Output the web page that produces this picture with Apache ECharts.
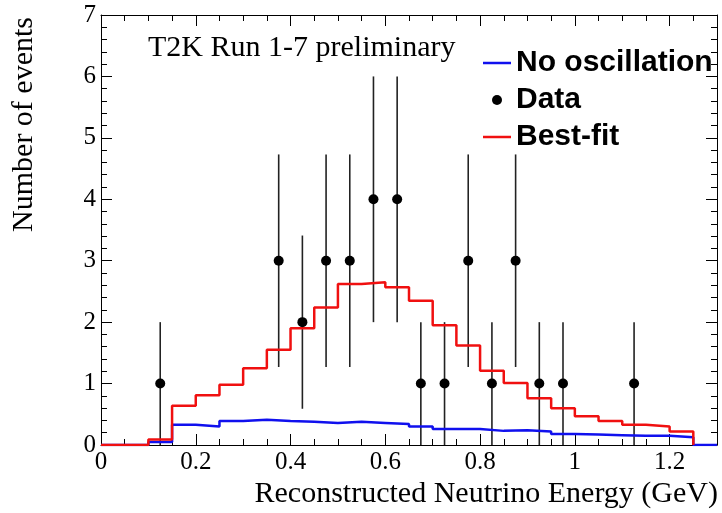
<!DOCTYPE html>
<html>
<head>
<meta charset="utf-8">
<script src="https://cdn.jsdelivr.net/npm/echarts@6/dist/echarts.min.js"></script>
<style>html,body{margin:0;padding:0;background:#fff;}#c{width:722px;height:513px;}</style>
</head>
<body>
<div id="c"></div>
<script>
const binLow = [0,0.05,0.1,0.15,0.2,0.25,0.3,0.35,0.4,0.45,0.5,0.55,0.6,0.65,0.7,0.75,0.8,0.85,0.9,0.95,1.0,1.05,1.1,1.15,1.2,1.25];
const binEnd = 1.3;
const bestFit = [0,0,0.09,0.64,0.81,0.98,1.25,1.55,1.9,2.24,2.62,2.65,2.57,2.35,1.95,1.62,1.21,1.01,0.76,0.6,0.47,0.39,0.33,0.3,0.22,0];
const noOsc = [0,0,0.05,0.33,0.3,0.39,0.41,0.39,0.38,0.36,0.38,0.36,0.34,0.3,0.26,0.26,0.23,0.24,0.22,0.18,0.17,0.16,0.15,0.15,0.125,0];
const dataX = [0.125,0.375,0.425,0.475,0.525,0.575,0.625,0.675,0.725,0.775,0.825,0.875,0.925,0.975,1.125];
const dataY = [1,3,2,3,3,4,4,1,1,3,1,3,1,1,1];
const dataErr = [1,1.73,1.41,1.73,1.73,2,2,1,1,1.73,1,1.73,1,1,1];

function stepData(vals, closeLast){
  const d = binLow.map((x,i)=>[x, vals[i]]);
  if (closeLast) d.push([binEnd, vals[vals.length-1]]);
  return d;
}
const serif = 'Liberation Serif';
const lineIcon = 'path://M0,0H28V2.5H0Z';
const chart = echarts.init(document.getElementById('c'));
const xCommon = {type:'value', min:0, max:1.3, interval:0.2,
  axisLine:{show:true, onZero:false, lineStyle:{color:'#000', width:1}},
  axisTick:{show:true, inside:true, length:11, lineStyle:{color:'#000'}},
  minorTick:{show:true, splitNumber:4, length:6, lineStyle:{color:'#000'}},
  splitLine:{show:false}};
const yCommon = {type:'value', min:0, max:7, interval:1,
  axisLine:{show:true, onZero:false, lineStyle:{color:'#000', width:1}},
  axisTick:{show:true, inside:true, length:11, lineStyle:{color:'#000'}},
  minorTick:{show:true, splitNumber:5, length:6, lineStyle:{color:'#000'}},
  splitLine:{show:false}};
chart.setOption({
  animation:false,
  backgroundColor:'#fff',
  grid:{left:101, right:5, top:15, bottom:68, containLabel:false},
  xAxis:[
    Object.assign({}, xCommon, {position:'bottom',
      axisLabel:{show:true, showMaxLabel:false, margin:5, color:'#000', fontFamily:serif, fontSize:25}}),
    Object.assign({}, xCommon, {position:'top', axisLabel:{show:false}})
  ],
  yAxis:[
    Object.assign({}, yCommon, {position:'left',
      axisLabel:{show:true, margin:5, color:'#000', fontFamily:serif, fontSize:25}}),
    Object.assign({}, yCommon, {position:'right', axisLabel:{show:false}})
  ],
  legend:{orient:'vertical', left:478, top:43, itemGap:7, itemWidth:28, itemHeight:10,
    textStyle:{fontFamily:'Liberation Sans', fontWeight:'bold', fontSize:30, color:'#000'},
    data:[{name:'No oscillation', icon:lineIcon},{name:'Data', icon:'circle'},{name:'Best-fit', icon:lineIcon}]},
  graphic:[
    {type:'text', left:148, top:33, style:{text:'T2K Run 1-7 preliminary', font:'30px "Liberation Serif"', fill:'#000'}},
    {type:'text', x:24, y:17, rotation:Math.PI/2, style:{text:'Number of events', font:'30px "Liberation Serif"', fill:'#000', textAlign:'right', textVerticalAlign:'middle'}},
    {type:'text', x:718, y:494, style:{text:'Reconstructed Neutrino Energy (GeV)', font:'30px "Liberation Serif"', fill:'#000', textAlign:'right', textVerticalAlign:'middle'}}
  ],
  series:[
    {name:'No oscillation', type:'line', step:'end', symbol:'none', data:stepData(noOsc, true),
      lineStyle:{color:'#1010ee', width:2.5}, itemStyle:{color:'#1010ee'}},
    {name:'Best-fit', type:'line', step:'end', symbol:'none', data:stepData(bestFit, false),
      lineStyle:{color:'#f01010', width:2.5}, itemStyle:{color:'#f01010'}},
    {name:'errors', type:'custom', data:dataX.map((x,i)=>[x,dataY[i],dataErr[i]]),
      renderItem:function(params, api){
        const x=api.value(0), y=api.value(1), e=api.value(2);
        const t=api.coord([x,y+e]), b=api.coord([x,Math.max(0,y-e)]);
        return {type:'line', shape:{x1:t[0],y1:t[1],x2:b[0],y2:b[1]}, style:{stroke:'#222', lineWidth:1.6}};
      }, z:3},
    {name:'Data', type:'scatter', symbol:'circle', symbolSize:10, data:dataX.map((x,i)=>[x,dataY[i]]),
      itemStyle:{color:'#000', opacity:1}, z:4}
  ]
});
</script>
</body>
</html>
